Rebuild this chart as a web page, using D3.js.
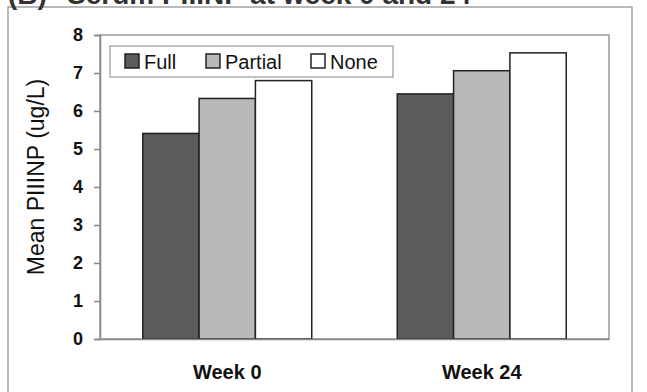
<!DOCTYPE html>
<html lang="en">
<head>
<meta charset="utf-8"/>
<style>
  body { margin: 0; background: #ffffff; }
  * { font-family: "Liberation Sans", Arial, sans-serif; }
  .tick text { font-size: 18px; font-weight: bold; fill: #111; }
</style>
</head>
<body>
<svg id="chart" width="647" height="392"></svg>
<script src="https://d3js.org/d3.v7.min.js"></script>
<script>
  // data
  let weeks = ["Week 0", "Week 24"]
  let groups = ["Full", "Partial", "None"]
  let full = [5.41, 6.45]
  let partial = [6.33, 7.06]
  let none = [6.80, 7.53]
  let yTicks = [0, 1, 2, 3, 4, 5, 6, 7, 8]
  let colors = ["#5b5b5b", "#b9b9b9", "#ffffff"]

  let svg = d3.select("#chart")
  let padL = 100, padR = 609, padT = 35, padB = 339

  // outer frame + panel title (cut off at the top in the original)
  svg.append("rect").attr("x", 8).attr("y", 7).attr("width", 624).attr("height", 400)
    .attr("fill", "none").attr("stroke", "#8a8a8a").attr("stroke-width", 1.2)
  let title = svg.append("text").attr("y", 4)
    .style("font-size", "28px").style("font-weight", "bold").attr("fill", "#333")
  title.append("tspan").attr("x", 8).text("(B)")
  title.append("tspan").attr("x", 67).text("Serum PIIINP at week 0 and 24")

  let x0 = d3.scaleBand().domain(weeks).range([padL, padR]).paddingInner(0.336).paddingOuter(0.168)
  let x1 = d3.scaleBand().domain(groups).range([0, x0.bandwidth()])
  let y = d3.scaleLinear().domain([0, 8]).range([padB, padT])

  // plot frame
  svg.append("rect").attr("x", padL).attr("y", padT).attr("width", padR - padL).attr("height", padB - padT)
    .attr("fill", "none").attr("stroke", "#9a9a9a").attr("stroke-width", 1.5)

  let table = weeks.map((w, i) => ({ week: w, vals: [full[i], partial[i], none[i]] }))

  svg.selectAll("g.week").data(table).enter().append("g")
    .attr("class", "week")
    .attr("transform", d => "translate(" + x0(d.week) + ",0)")
    .selectAll("rect").data(d => d.vals.map((v, j) => ({ key: groups[j], v: v, c: colors[j] })))
    .enter().append("rect")
    .attr("x", d => x1(d.key))
    .attr("y", d => y(d.v))
    .attr("width", x1.bandwidth())
    .attr("height", d => padB - y(d.v))
    .attr("fill", d => d.c)
    .attr("stroke", "#222").attr("stroke-width", 1.5)

  // y axis
  let yAxis = svg.append("g").attr("transform", "translate(" + padL + ",0)")
    .call(d3.axisLeft(y).tickValues(yTicks).tickSize(6).tickPadding(11))
  yAxis.select(".domain").attr("stroke", "#888").attr("stroke-width", 1.5)
  yAxis.selectAll(".tick line").attr("stroke", "#888").attr("stroke-width", 1.5)

  // x axis
  let xAxis = svg.append("g").attr("transform", "translate(0," + padB + ")")
    .call(d3.axisBottom(x0).tickSize(0).tickPadding(26))
  xAxis.select(".domain").attr("stroke", "#888").attr("stroke-width", 1.5)
  xAxis.selectAll(".tick text").style("font-size", "20px")

  svg.append("text")
    .attr("transform", "translate(44,177) rotate(-90)")
    .attr("text-anchor", "middle")
    .style("font-size", "23px").attr("fill", "#111")
    .text("Mean PIIINP (ug/L)")

  // legend
  let lg = svg.append("g")
  lg.append("rect").attr("x", 110).attr("y", 46).attr("width", 283).attr("height", 31)
    .attr("fill", "#fff").attr("stroke", "#999").attr("stroke-width", 1.2)
  let legendX = [125, 206, 311]
  groups.forEach((g, i) => {
    lg.append("rect").attr("x", legendX[i]).attr("y", 54).attr("width", 14).attr("height", 14)
      .attr("fill", colors[i]).attr("stroke", "#222").attr("stroke-width", 1.5)
    lg.append("text").attr("x", legendX[i] + 19).attr("y", 69)
      .style("font-size", "20px").attr("fill", "#111").text(g)
  })
</script>
</body>
</html>
